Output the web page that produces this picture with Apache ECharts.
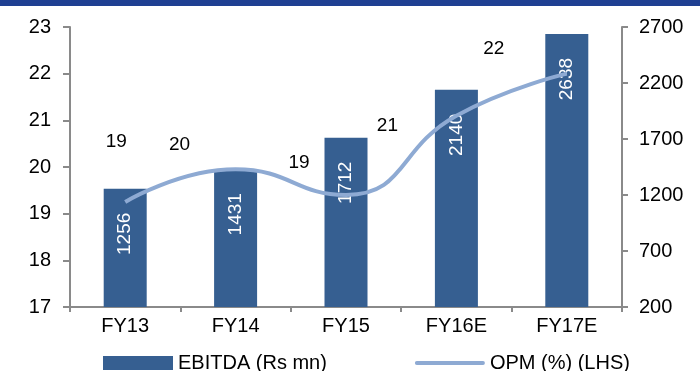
<!DOCTYPE html>
<html>
<head>
    <meta charset="UTF-8">
    <title>EBITDA and OPM</title>
    <style>
        html, body {
            height: 100%;
            width: 100%;
            margin: 0;
            padding: 0;
            background: #fff;
        }
    </style>
    <script src="https://cdn.jsdelivr.net/npm/echarts@6/dist/echarts.min.js"></script>
</head>
<body>
<div id="main" style="width: 700px; height: 371px;"></div>

<script type="text/javascript">
    // categories
    var years = ['FY13', 'FY14', 'FY15', 'FY16E', 'FY17E'];
    // EBITDA (Rs mn), right axis
    var ebitda = [1256, 1431, 1712, 2140, 2638];
    // OPM (%), left axis
    var opm = [19.25, 19.95, 19.4, 21.1, 22.0];
    // tick labels
    var leftTicks = [17, 18, 19, 20, 21, 22, 23];
    var rightTicks = [200, 700, 1200, 1700, 2200, 2700];
    var legendNames = ['EBITDA (Rs mn)', 'OPM (%) (LHS)'];

    // where each OPM label sits relative to its point
    var opmLabelShift = [[-9, -60], [-56, -25], [-47, -32], [-69, 10], [-73, -25]];

    var font = 'Liberation Sans, Arial, sans-serif';
    var axisGrey = '#8a8a8a';
    var lineBlue = '#8eaad3';

    function createChart() {
        var myChart = echarts.init(document.getElementById('main'));

        var opmData = opm.map(function (v, i) {
            return {
                value: v,
                label: {offset: opmLabelShift[i]}
            };
        });

        var option = {
            animation: false,
            textStyle: {fontFamily: font},
            graphic: [{
                // dark banner along the top
                type: 'rect',
                left: 0,
                top: 0,
                shape: {width: 700, height: 6},
                style: {fill: '#1f4092'}
            }],
            legend: {
                left: 98,
                top: 348,
                itemGap: 88,
                itemWidth: 70,
                itemHeight: 14,
                textStyle: {color: '#000', fontSize: 20, fontFamily: font},
                data: [{
                    name: legendNames[0],
                    icon: 'rect'
                }, {
                    name: legendNames[1],
                    icon: 'path://M2,0 L72,0 A2,2 0 0 1 72,4 L2,4 A2,2 0 0 1 2,0 Z',
                    itemStyle: {color: lineBlue, opacity: 1}
                }]
            },
            grid: {
                left: 70,
                right: 78,
                top: 27,
                bottom: 64,
                containLabel: false
            },
            xAxis: [{
                type: 'category',
                data: years,
                boundaryGap: true,
                axisLine: {lineStyle: {color: axisGrey, width: 2}},
                axisTick: {show: true, length: 5, lineStyle: {color: axisGrey, width: 2}},
                axisLabel: {color: '#000', fontSize: 20, margin: 9, fontFamily: font}
            }],
            yAxis: [{
                type: 'value',
                position: 'left',
                min: leftTicks[0],
                max: leftTicks[leftTicks.length - 1],
                interval: 1,
                splitLine: {show: false},
                axisLine: {show: true, lineStyle: {color: axisGrey, width: 2}},
                axisTick: {show: true, length: 7, lineStyle: {color: axisGrey, width: 2}},
                axisLabel: {color: '#000', fontSize: 20, margin: 19, fontFamily: font}
            }, {
                type: 'value',
                position: 'right',
                min: rightTicks[0],
                max: rightTicks[rightTicks.length - 1],
                splitLine: {show: false},
                axisLine: {show: true, lineStyle: {color: axisGrey, width: 2}},
                axisTick: {show: true, length: 6, customValues: rightTicks, lineStyle: {color: axisGrey, width: 2}},
                axisLabel: {
                    color: '#000',
                    fontSize: 20,
                    margin: 17,
                    customValues: rightTicks,
                    fontFamily: font,
                    formatter: function (v) {
                        return String(v);
                    }
                }
            }],
            series: [{
                name: legendNames[0],
                type: 'bar',
                yAxisIndex: 1,
                barWidth: 43,
                data: ebitda,
                itemStyle: {color: '#365f91'},
                label: {
                    show: true,
                    position: 'insideTop',
                    distance: 24,
                    rotate: 90,
                    align: 'right',
                    verticalAlign: 'middle',
                    color: '#fff',
                    fontSize: 19,
                    fontFamily: font
                }
            }, {
                name: legendNames[1],
                type: 'line',
                yAxisIndex: 0,
                smooth: true,
                symbol: 'circle',
                symbolSize: 1,
                showSymbol: true,
                data: opmData,
                lineStyle: {color: lineBlue, width: 4},
                itemStyle: {color: lineBlue, opacity: 0},
                label: {
                    show: true,
                    position: 'inside',
                    opacity: 1,
                    color: '#000',
                    fontSize: 19,
                    fontFamily: font,
                    formatter: function (p) {
                        return Math.round(p.value);
                    }
                },
                z: 3
            }]
        };
        myChart.setOption(option);
    }

    createChart();
</script>
</body>
</html>
